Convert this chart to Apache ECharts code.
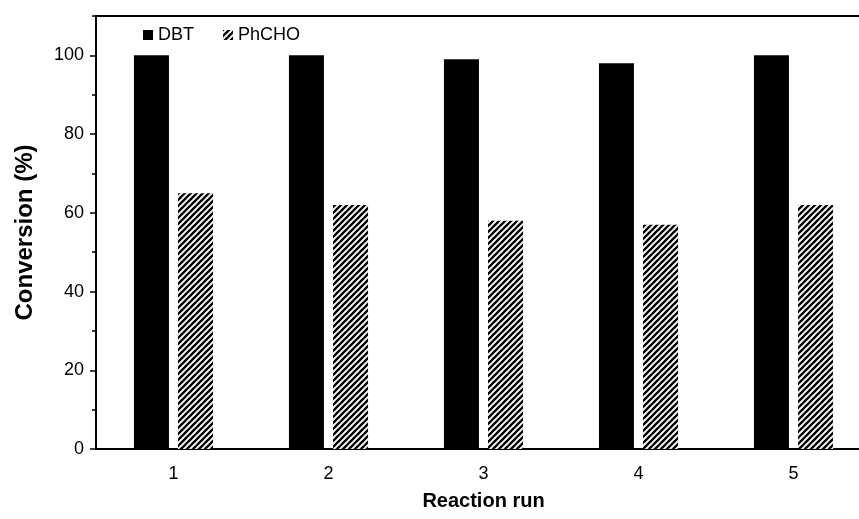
<!DOCTYPE html>
<html>
<head>
<meta charset="utf-8">
<script src="https://cdn.jsdelivr.net/npm/echarts@6/dist/echarts.min.js"></script>
<style>
  html, body { margin: 0; padding: 0; background: #fff; overflow: hidden; }
  body { width: 859px; height: 519px; }
  /* the plot frame continues past the right edge of the page */
  #chart { width: 890px; height: 519px; }
</style>
</head>
<body>
<div id="chart"></div>
<script>
// Catalyst recycling: conversion per reaction run
const runs = ['1', '2', '3', '4', '5'];
const dbtConversion = [100, 100, 99, 98, 100];
const phchoConversion = [65, 62, 58, 57, 62];

// Diagonal hatch fill for the PhCHO bars
function hatchPattern() {
  const s = 6;
  const c = document.createElement('canvas');
  c.width = s; c.height = s;
  const ctx = c.getContext('2d');
  ctx.fillStyle = '#fff';
  ctx.fillRect(0, 0, s, s);
  ctx.strokeStyle = '#000';
  ctx.lineWidth = 2.3;
  ctx.beginPath();
  ctx.moveTo(-1, s + 1); ctx.lineTo(s + 1, -1);
  ctx.moveTo(-1, 1); ctx.lineTo(1, -1);
  ctx.moveTo(s - 1, s + 1); ctx.lineTo(s + 1, s - 1);
  ctx.stroke();
  return { image: c, repeat: 'repeat' };
}

const font = 'Arial, "Liberation Sans", sans-serif';
const chart = echarts.init(document.getElementById('chart'), null, { renderer: 'canvas' });

chart.setOption({
  animation: false,
  backgroundColor: '#fff',
  grid: { left: 96, width: 775, top: 16, bottom: 70 },
  legend: {
    left: 138, top: 21,
    itemWidth: 10, itemHeight: 10, itemGap: 29, itemStyle: { borderWidth: 0 },
    icon: 'rect',
    textStyle: { fontFamily: font, fontSize: 18, color: '#000' },
    data: ['DBT', 'PhCHO']
  },
  xAxis: [{
    type: 'category',
    data: runs,
    name: 'Reaction run',
    nameLocation: 'middle',
    nameGap: 42,
    nameTextStyle: { fontFamily: font, fontSize: 20, fontWeight: 'bold', color: '#000' },
    axisLine: { lineStyle: { color: '#000', width: 2 } },
    axisTick: { show: false },
    axisLabel: { fontFamily: font, fontSize: 18, color: '#000', margin: 16 }
  }, {
    type: 'category',
    data: runs,
    position: 'top',
    axisLine: { onZero: false, lineStyle: { color: '#000', width: 2 } },
    axisTick: { show: false },
    axisLabel: { show: false }
  }],
  yAxis: [{
    type: 'value',
    min: 0, max: 110, interval: 20,
    name: 'Conversion (%)',
    nameLocation: 'middle',
    nameGap: 59,
    nameTextStyle: { fontFamily: font, fontSize: 24, fontWeight: 'bold', color: '#000' },
    axisLine: { show: true, lineStyle: { color: '#000', width: 2 } },
    axisTick: { show: true, length: 6, lineStyle: { color: '#000', width: 1.5 } },
    axisLabel: { fontFamily: font, fontSize: 18, color: '#000', margin: 12, showMaxLabel: false },
    splitLine: { show: false }
  }, {
    // minor tick marks every 10 units
    type: 'value',
    position: 'left',
    min: 0, max: 110, interval: 10,
    axisLine: { show: false },
    axisTick: { show: true, length: 4, lineStyle: { color: '#000', width: 1.5 } },
    axisLabel: { show: false },
    splitLine: { show: false }
  }],
  series: [{
    name: 'DBT',
    type: 'bar',
    data: dbtConversion,
    barWidth: 35,
    barGap: '26%',
    itemStyle: { color: '#000' }
  }, {
    name: 'PhCHO',
    type: 'bar',
    data: phchoConversion,
    barWidth: 35,
    itemStyle: { color: hatchPattern() }
  }]
});
</script>
</body>
</html>
